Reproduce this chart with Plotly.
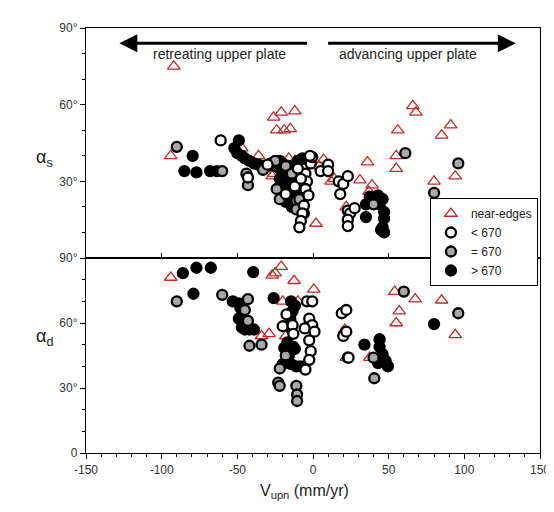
import plotly.graph_objects as go

# ---------------- data ----------------
# top panel (alpha_s)
tri_top_x = [-92, -94, -26, -21, -12, -24, -19, -15, -47, -36, -27, -26, -12, -16, 2, 7, 4, 12, 14, 31, 36, 39, 37, 56, 55, 55, 66, 68, 85, 91, 80, 94, 22]
tri_top_y = [75, 40, 55, 57, 57.5, 50, 50, 50.5, 43, 40, 32, 33, 38, 39, 13.5, 38.5, 36, 30, 31, 30.5, 37.5, 28.5, 26, 50, 40, 35, 59.5, 57, 48, 52, 30, 32, 20]

lt_top_x = [-61, -43, -30, -6, -1.5, -0.5, -5, -4, -5, -6, -7, -8, -9, -3, 5, 10, 10, 17, 18, 20, 23, 23, 24.5, 23, 23, 27.5, -18, -12, -2, -10, -8]
lt_top_y = [46, 31.5, 36.5, 35, 37, 39.5, 33, 30, 27, 20.5, 17.5, 14.5, 12, 24.5, 34, 36.5, 34, 30, 25, 29, 32, 18.5, 17.5, 15, 12.5, 19.5, 25, 28, 40, 35, 31]

eq_top_x = [-90, -60, -43, -44, -33, -25, -24, -22, -11, -11, -6, -9, -18, -14, 40, 61, 80, 96]
eq_top_y = [43.5, 34, 28.5, 33, 34.5, 38, 27, 23, 22.5, 19, 17.5, 23, 36, 33, 21, 41, 25.5, 37]

gt_top_x = [-85, -79.5, -77, -68, -63.5, -49, -52, -50, -47, -45, -42, -39, -36, -33, -30, -28, -25, -22, -20, -18, -16, -14, -12, -15, -13, -10, -8, -20, -18, -16, -12, -9, -22, -10, -7, -18, -14, -12, -16, -22, -10, 35, 35, 37.5, 43, 46, 47, 47, 46, 47, 45, 44]
gt_top_y = [34, 40, 33.5, 34, 34, 46, 43, 41, 40, 39, 38, 37, 36.5, 36, 36, 37, 36, 35, 37, 33, 30, 28, 30, 25, 24, 26, 28, 30, 27, 36, 33, 32, 31, 38, 39, 22, 20, 26, 33, 38, 30, 16, 21, 24, 24.5, 23, 18, 15.5, 12, 10, 11, 21]

# bottom panel (alpha_d)
tri_bot_x = [-94, -25, -27, -21, -12.5, 0.5, -20, -47, -34, -29, -18, 21, 22, 37.5, 54, 57, 55, 67.5, 85, 91, 94, -10]
tri_bot_y = [81, 83, 82, 86, 79.5, 75.5, 70, 65, 54, 55, 54, 57, 44, 44, 74.5, 65.5, 60, 71, 70.5, 81, 54.5, 70]

lt_bot_x = [-4, -0.5, -17.5, -20, -13.5, -2.5, -3.5, -0.5, -2.5, -1.5, -2.5, -5, -5.5, 1, 19, 22, 20, 22, 23.5, -13]
lt_bot_y = [70, 70, 64, 58.5, 59, 62, 58, 59, 52, 47, 43, 38.5, 57.5, 56, 64.5, 66, 54, 56, 44, 55]

eq_bot_x = [-90, -60, -43, -43, -42, -34, -22, -23, -22, -11, -10.5, -10.5, 23, 40, 40.5, 60, 96, -45, -18]
eq_bot_y = [70, 73, 71, 61, 49.5, 50, 39, 32.5, 31, 31, 27, 24, 44, 44, 34.5, 74.5, 64.5, 66, 45]

gt_bot_x = [-86, -77, -67.5, -79, -39.5, -26, -53, -49, -48, -49, -47, -45, -42, -39, -44, -14.5, -12, -13.5, -15, -15, -17, -19, -13, -12, -16, -14.5, -20, -8, -11, -17, 34, 44, 44, 46, 48, 49.5, 43, 80]
gt_bot_y = [83, 85.5, 85.5, 73.5, 83.5, 71.5, 70, 69, 67, 62, 58, 57, 57, 57, 60, 70, 68, 65.5, 62, 58, 51, 48.5, 49, 48, 45, 41, 41, 40, 40, 49.5, 50, 52.5, 49, 45.5, 42.5, 40, 41.5, 59.5]

series_names = ["near-edges", "< 670", "= 670", "> 670"]
x_ticks = [-150, -100, -50, 0, 50, 100, 150]
x_tick_text = ["-150", "-100", "-50", "0", "50", "100", "150"]
top_y_ticks = [30, 60, 90]
top_y_text = ["30°", "60°", "90°"]
bot_y_ticks = [0, 30, 60, 90]
bot_y_text = ["0", "30°", "60°", "90°"]

# ---------------- styling ----------------
RED = "#c42a2a"
FONT = "Liberation Sans, Arial, sans-serif"

def tri(x, y, xa, ya, show):
    return go.Scatter(x=x, y=y, xaxis=xa, yaxis=ya, mode="markers", name=series_names[0],
                      legendrank=1, showlegend=show,
                      marker=dict(symbol="triangle-up-open", size=11, color=RED, line=dict(width=1.3, color=RED)))

def dot(x, y, xa, ya, show, fill, name, rank):
    return go.Scatter(x=x, y=y, xaxis=xa, yaxis=ya, mode="markers", name=name,
                      legendrank=rank, showlegend=show,
                      marker=dict(symbol="circle", size=10, color=fill, line=dict(width=2.3, color="black")))

fig = go.Figure()
# top panel
fig.add_trace(tri(tri_top_x, tri_top_y, "x2", "y2", True))
fig.add_trace(dot(gt_top_x, gt_top_y, "x2", "y2", True, "black", series_names[3], 4))
fig.add_trace(dot(eq_top_x, eq_top_y, "x2", "y2", True, "#a8a8a8", series_names[2], 3))
fig.add_trace(dot(lt_top_x, lt_top_y, "x2", "y2", True, "white", series_names[1], 2))
# bottom panel
fig.add_trace(tri(tri_bot_x, tri_bot_y, "x", "y", False))
fig.add_trace(dot(gt_bot_x, gt_bot_y, "x", "y", False, "black", series_names[3], 4))
fig.add_trace(dot(eq_bot_x, eq_bot_y, "x", "y", False, "#a8a8a8", series_names[2], 3))
fig.add_trace(dot(lt_bot_x, lt_bot_y, "x", "y", False, "white", series_names[1], 2))

split = 195 / 425
tickfont = dict(family=FONT, size=12, color="#333")

fig.update_layout(
    width=554, height=512,
    margin=dict(l=78, r=14, t=20, b=67),
    paper_bgcolor="white", plot_bgcolor="white",
    font=dict(family=FONT, color="#222"),
    xaxis=dict(domain=[0, 1], anchor="y", range=[-150, 150], tickvals=x_ticks, ticktext=x_tick_text,
               ticks="outside", ticklen=5, tickcolor="black", showgrid=False, zeroline=False,
               showline=True, linecolor="black", linewidth=1.3, mirror=True,
               minor=dict(dtick=10, tick0=0, ticks="outside", ticklen=3, tickcolor="black"),
               tickfont=tickfont),
    yaxis=dict(domain=[0, split], anchor="x", range=[0, 90], tickvals=bot_y_ticks, ticktext=bot_y_text,
               ticks="outside", ticklen=5, tickcolor="black", showgrid=False, zeroline=False,
               showline=True, linecolor="black", linewidth=1.3, mirror=True,
               minor=dict(dtick=10, tick0=0, ticks="outside", ticklen=3, tickcolor="black"),
               tickfont=tickfont),
    xaxis2=dict(domain=[0, 1], anchor="y2", matches="x", range=[-150, 150], tickvals=[-100, -50, 0, 50, 100],
                ticks="inside", ticklen=5, tickcolor="black", showticklabels=False, showgrid=False, zeroline=False,
                showline=True, linecolor="black", linewidth=1.3, mirror=True),
    yaxis2=dict(domain=[split, 1], anchor="x2", range=[0, 90], tickvals=top_y_ticks, ticktext=top_y_text,
                ticks="outside", ticklen=5, tickcolor="black", showgrid=False, zeroline=False,
                showline=True, linecolor="black", linewidth=1.3, mirror=True,
                minor=dict(dtick=10, tick0=0, ticks="outside", ticklen=3, tickcolor="black"),
                tickfont=tickfont),
    legend=dict(x=(428 - 78) / 462, y=(445 - 190) / 425, xanchor="left", yanchor="top",
                bordercolor="black", borderwidth=1, bgcolor="white",
                font=dict(family=FONT, size=12, color="#222"), tracegroupgap=0, itemwidth=30),
    showlegend=True,
)

# direction arrows
arrow_y = 84
fig.add_annotation(x=-128, y=arrow_y, ax=-3, ay=arrow_y, xref="x2", yref="y2", axref="x2", ayref="y2",
                   text="", showarrow=True, arrowhead=2, arrowsize=1.2, arrowwidth=3, arrowcolor="black")
fig.add_annotation(x=134, y=arrow_y, ax=9, ay=arrow_y, xref="x2", yref="y2", axref="x2", ayref="y2",
                   text="", showarrow=True, arrowhead=2, arrowsize=1.2, arrowwidth=3, arrowcolor="black")
fig.add_annotation(x=-62, y=80, xref="x2", yref="y2", text="retreating upper plate", showarrow=False,
                   font=dict(family=FONT, size=14, color="#222"))
fig.add_annotation(x=63, y=80, xref="x2", yref="y2", text="advancing upper plate", showarrow=False,
                   font=dict(family=FONT, size=14, color="#222"))

# axis titles
fig.add_annotation(x=(25 - 78) / 462, y=(445 - 137) / 425, xref="paper", yref="paper",
                   text="α<sub>s</sub>", showarrow=False, font=dict(family=FONT, size=18, color="#222"))
fig.add_annotation(x=(25 - 78) / 462, y=(445 - 343) / 425, xref="paper", yref="paper",
                   text="α<sub>d</sub>", showarrow=False, font=dict(family=FONT, size=18, color="#222"))
fig.add_annotation(x=(300 - 78) / 462, y=(445 - 495) / 425, xref="paper", yref="paper",
                   text="V<sub>upn</sub> (mm/yr)", showarrow=False, font=dict(family=FONT, size=16, color="#222"))

fig.write_html("out.html")
